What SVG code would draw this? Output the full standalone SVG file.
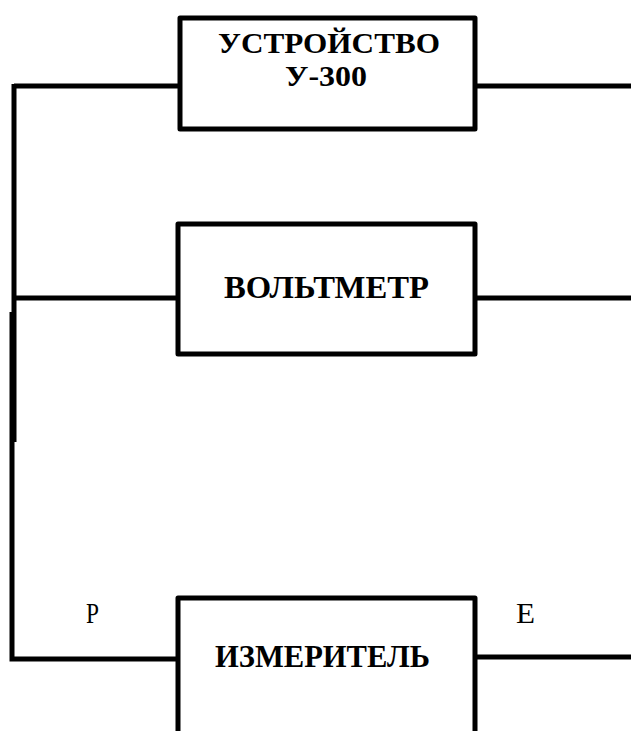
<svg xmlns="http://www.w3.org/2000/svg" width="631" height="731" viewBox="0 0 631 731">
<style>
.box{fill:#fff;stroke:#000;stroke-width:5;stroke-linejoin:round}
.w{fill:none;stroke:#000;stroke-width:5}
.lbl{font-family:"Liberation Serif","Times New Roman",serif;font-weight:bold;font-size:32px;fill:#000}
.sm{font-size:29px}
.pin{font-family:"Liberation Serif","Times New Roman",serif;font-size:29px;fill:#000}
</style>
<rect width="631" height="731" fill="#fff"/>
<g id="connectors">
<path class="w" d="M14,86 H180 M475,86 H631"/>
<path class="w" d="M14,84 V442"/>
<path class="w" d="M12,312 V659 H180"/>
<path class="w" d="M14,298 H180 M475,298 H631"/>
<path class="w" d="M475,657 H631"/>
</g>
<g id="node-u300">
<rect class="box" x="180" y="18" width="295" height="111"/>
<text class="lbl sm" x="218" y="53" textLength="222" lengthAdjust="spacingAndGlyphs">УСТРОЙСТВО</text>
<text class="lbl sm" x="285" y="86" textLength="82" lengthAdjust="spacingAndGlyphs">У-300</text>
</g>
<g id="node-voltmeter">
<rect class="box" x="178" y="224" width="297" height="130"/>
<text class="lbl" x="224" y="298" textLength="205" lengthAdjust="spacingAndGlyphs">ВОЛЬТМЕТР</text>
</g>
<g id="node-meter">
<path class="box" d="M178,740 V598 H475 V740"/>
<text class="lbl" x="215" y="667" textLength="215" lengthAdjust="spacingAndGlyphs">ИЗМЕРИТЕЛЬ</text>
</g>
<text class="pin" x="86" y="623" textLength="13" lengthAdjust="spacingAndGlyphs">Р</text>
<text class="pin" x="516" y="623" textLength="19" lengthAdjust="spacingAndGlyphs">Е</text>
</svg>
